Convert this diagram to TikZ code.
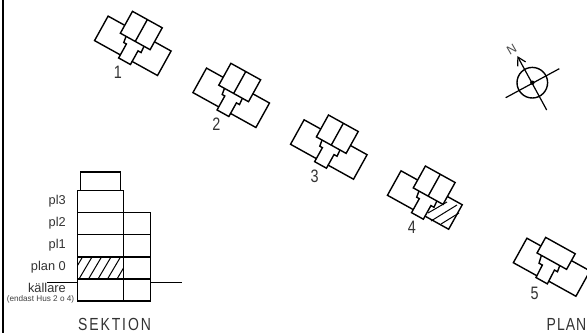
\documentclass[tikz,border=0pt]{standalone}
\usepackage{fontspec}
\setmainfont{Liberation Sans}
\newfontfamily\narrowf[FakeStretch=0.8]{Liberation Sans}
\usetikzlibrary{arrows.meta}
\tikzset{
 lin/.style={line width=1.4pt,line join=miter},
 hatch/.style={line width=1pt},
 lab/.style={inner sep=0pt,font=\narrowf\fontsize{18}{18}\selectfont,text=black!80},
 sec/.style={inner sep=0pt,anchor=east,font=\fontsize{12.8}{13}\selectfont,text=black!80},
 title/.style={inner sep=0pt,font=\narrowf\fontsize{17.5}{17.5}\selectfont,text=black!80},
}
\newcommand{\husform}[1]{%
  \draw (-17,3.5) -- (-36,3.5) -- (-36,31.5) -- (-6.5,31.5);
  \draw (17,3.5) -- (#1,3.5) -- (#1,31.5) -- (6.5,31.5);
  \draw (-17,-12.5) rectangle (17,12.5);
  \draw (0,-12.5) -- (0,12.5);
  \draw (-10.5,12.5) -- (-9.5,19) -- (-6.5,19) -- (-6.5,35) -- (7,35) -- (7,19.4) -- (10.5,19.4) -- (10,12.5);
}
\newcommand{\husblock}[2]{%
 \begin{scope}[shift={(#1,#2)},rotate=-29,lin]
  \husform{36}
 \end{scope}}
\begin{document}
\begin{tikzpicture}[x=1pt,y=-1pt]
\useasboundingbox (0,0) rectangle (587,333);
\fill[white] (0,0) rectangle (587,333);
\draw[line width=1.8pt] (3.3,0) -- (3.3,333);
\husblock{141.3}{30.5}
\husblock{239.7}{82.5}
\husblock{337.3}{134.2}
% house 4
\begin{scope}[shift={(434.2,185.2)},rotate=-29,lin]
  \husform{34}
\end{scope}
\draw[hatch] (428,213) -- (447,202) (431,221) -- (457,205) (441,224) -- (459,213);
% house 5
\begin{scope}[shift={(560.1,252.6)},rotate=-29,lin]
  \draw (-20,3.5) -- (-36,3.5) -- (-36,31.5) -- (-9,31.5);
  \draw (13.8,1.5) -- (35,1.5) -- (35,30.5) -- (4,30.5);
  \draw (-20,-6.3) rectangle (13.8,11.5);
  \draw (-15,11.5) -- (-13.3,19.5) -- (-9.5,19.5) -- (-9,33.5) -- (4,33.5) -- (3.5,18) -- (7,18) -- (6,11.5);
\end{scope}
% compass
\draw[lin] (532.3,82.7) circle (15.3);
\coordinate (cwest) at (505.7,97.7);
\coordinate (ceast) at (559.3,68.7);
\coordinate (csouth) at (546.7,110);
\coordinate (cnorth) at (517.3,56);
\draw[line width=1.2pt] (cwest) -- (ceast);
\draw[line width=1.2pt,-{Straight Barb[length=8pt,width=9pt]}] (csouth) -- (cnorth);
\fill (532.3,82.7) circle (2.2);
\node[rotate=30,inner sep=0pt,font=\fontsize{12.5}{12}\selectfont,text=black!70] (n) at (511.7,49.3) {N};
% section
\draw[lin] (80.7,190.5) -- (80.7,172) -- (120.3,172) -- (120.3,190.5);
\begin{scope}
\clip (77.3,257) rectangle (123.7,279);
\foreach \hx in {60,69.5,79,88.5,98,107.5,117}
  \draw[hatch] (\hx,279) -- (\hx+13,257);
\end{scope}
\draw[lin] (77.3,190.5) -- (123.7,190.5) (77.3,212.7) -- (150.7,212.7) (77.3,234.7) -- (150.7,234.7) (77.3,257) -- (150.7,257) (77.3,279) -- (150.7,279) (77.3,301) -- (150.7,301);
\draw[lin] (77.3,190.5) -- (77.3,301) (123.7,190.5) -- (123.7,301) (150.7,212.7) -- (150.7,301);
\draw[line width=1.1pt] (47,282.3) -- (77.3,282.3) (150.7,282.3) -- (181.5,282.3);
\node[sec] (a) at (66,201) {pl3};
\node[sec] (b) at (66,223) {pl2};
\node[sec] (c) at (66,245) {pl1};
\node[sec] (d) at (66,267) {plan 0};
\node[sec] (e) at (66,288) {källare};
\node[inner sep=0pt,font=\fontsize{8.2}{8.2}\selectfont,text=black!75] (f) at (40.5,299.3) {(endast Hus 2 o 4)};
\node[title] (s) at (114.5,324.5) {S\kern1.9pt E\kern1.9pt K\kern1.9pt T\kern1.9pt I\kern1.9pt O\kern1.9pt N};
\node[title,anchor=east] (p) at (586.5,324.5) {P\kern1pt L\kern1pt A\kern1pt N};
\node[lab] (l1) at (118,72.3) {1};
\node[lab] (l2) at (216.3,124) {2};
\node[lab] (l3) at (314.7,176.3) {3};
\node[lab] (l4) at (411.8,227) {4};
\node[lab] (l5) at (534.7,293) {5};
\end{tikzpicture}
\end{document}
